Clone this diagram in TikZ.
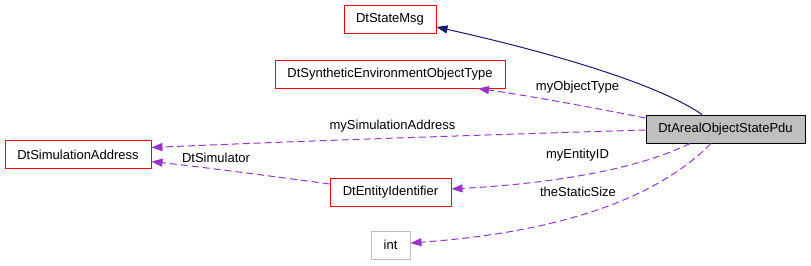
\documentclass[tikz,border=0pt]{standalone}
\usepackage{fontspec}
\setmainfont{Liberation Sans}
\usetikzlibrary{arrows.meta,calc}
\definecolor{edgepurple}{HTML}{9A32CD}
\definecolor{edgenavy}{HTML}{191970}
\definecolor{boxred}{HTML}{FF0000}
\definecolor{boxgray}{HTML}{BFBFBF}
\begin{document}
\begin{tikzpicture}[x=1pt,y=-1pt,
  font=\fontsize{13pt}{15pt}\selectfont,
  cls/.style={draw=boxred, line width=1pt, fill=white, inner sep=0pt, minimum height=28pt, anchor=center},
  mainbox/.style={draw=black, line width=1pt, fill=boxgray, inner sep=0pt, minimum height=28pt},
  plain/.style={draw=boxgray, line width=1pt, fill=white, inner sep=0pt, minimum height=28pt},
  uses/.style={draw=edgepurple, line width=1pt, dash pattern=on 7pt off 4pt, -{Triangle[length=11pt,width=8pt,fill=edgepurple]}},
  inherit/.style={draw=edgenavy, line width=1pt, -{Triangle[length=11pt,width=8pt,fill=edgenavy]}},
  lbl/.style={inner sep=0pt, anchor=center}]
\useasboundingbox (0,0) rectangle (811,265);
\node[cls, minimum width=92pt] (msg) at (390,19.5) {DtStateMsg};
\node[cls, minimum width=230pt] (synth) at (390,74) {DtSyntheticEnvironmentObjectType};
\node[cls, minimum width=146pt] (addr) at (78,154.5) {DtSimulationAddress};
\node[mainbox, minimum width=159pt] (pdu) at (725.5,129) {DtArealObjectStatePdu};
\node[cls, minimum width=121pt] (ent) at (390.5,192) {DtEntityIdentifier};
\node[plain, minimum width=39pt] (int) at (390.5,245) {int};

\draw[inherit] ($(pdu.north)+(-23.5,0)$) .. controls (655,82) and (540,50) .. ($(msg.east)+(0,7.5)$);
\draw[uses] ($(pdu.west)+(0,-11)$) .. controls (590,107) and (530,96) .. ($(synth.south)+(88,0)$);
\draw[uses] ($(pdu.west)+(0,1)$) .. controls (480,135) and (300,141) .. ($(addr.east)+(0,-7)$);
\draw[uses] ($(pdu.south)+(-35.5,0)$) .. controls (640,168) and (560,183) .. ($(ent.east)+(0,-3)$);
\draw[uses] ($(ent.west)+(0,-8)$) .. controls (270,176) and (210,168) .. ($(addr.east)+(0,7)$);
\draw[uses] ($(pdu.south)+(-14.5,0)$) .. controls (670,185) and (590,230) .. ($(int.east)+(0,-2)$);

\node[lbl] (l1) at (577.5,87) {myObjectType};
\node[lbl] (l2) at (392.5,126) {mySimulationAddress};
\node[lbl] (l3) at (216,158) {DtSimulator};
\node[lbl] (l4) at (577.5,155.5) {myEntityID};
\node[lbl] (l5) at (578,192) {theStaticSize};
\end{tikzpicture}
\end{document}
